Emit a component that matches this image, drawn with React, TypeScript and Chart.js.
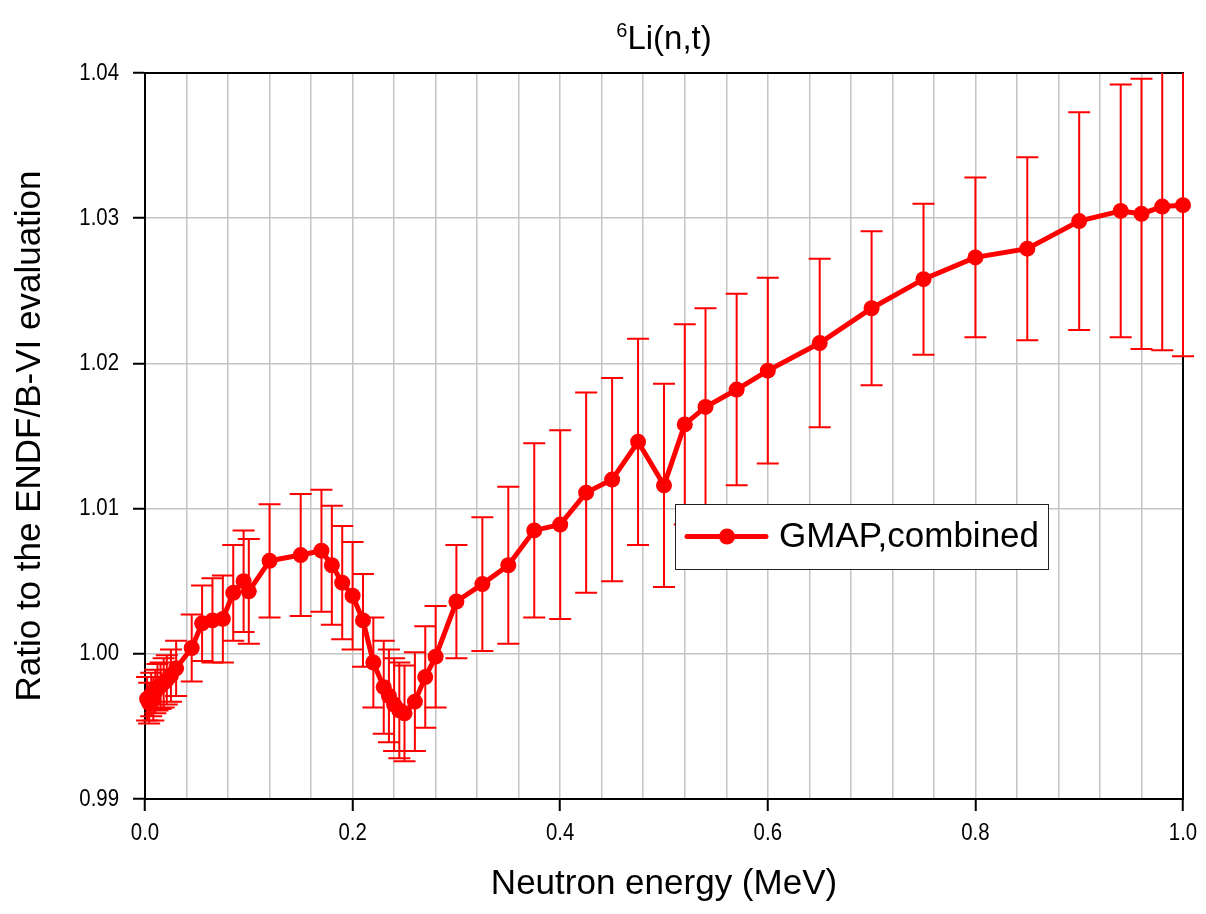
import React, { useEffect, useRef } from 'react';
import { Chart, registerables } from 'chart.js';

Chart.register(...registerables);

// ---- Data ----
const energies = [
  0.002, 0.004, 0.006, 0.008, 0.010, 0.012, 0.015, 0.018, 0.021, 0.025, 0.030,
  0.045, 0.055, 0.065, 0.075, 0.085, 0.095, 0.100, 0.120, 0.150, 0.170, 0.180,
  0.190, 0.200, 0.210, 0.220, 0.230, 0.235, 0.240, 0.245, 0.250, 0.260, 0.270,
  0.280, 0.300, 0.325, 0.350, 0.375, 0.400, 0.425, 0.450, 0.475, 0.500, 0.520,
  0.540, 0.570, 0.600, 0.650, 0.700, 0.750, 0.800, 0.850, 0.900, 0.940, 0.960,
  0.980, 1.000,
];

const ratios = [
  0.9969, 0.9966, 0.9972, 0.9969, 0.9974, 0.9977, 0.9978, 0.9980, 0.9982, 0.9985, 0.9990,
  1.0004, 1.0021, 1.0023, 1.0024, 1.0042, 1.0050, 1.0043, 1.0064, 1.0068, 1.0071, 1.0061,
  1.0049, 1.0040, 1.0023, 0.9994, 0.9977, 0.9971, 0.9965, 0.9961, 0.9959, 0.9967, 0.9984,
  0.9998, 1.0036, 1.0048, 1.0061, 1.0085, 1.0089, 1.0111, 1.0120, 1.0146, 1.0116, 1.0158,
  1.0170, 1.0182, 1.0195, 1.0214, 1.0238, 1.0258, 1.0273, 1.0279, 1.0298, 1.0305, 1.0303,
  1.0308, 1.0309,
];

const uncertainties = [
  0.0015, 0.0014, 0.0015, 0.0015, 0.0015, 0.0016, 0.0016, 0.0017, 0.0017, 0.0018, 0.0019,
  0.0023, 0.0026, 0.0029, 0.0030, 0.0033, 0.0035, 0.0036, 0.0039, 0.0042, 0.0042, 0.0041,
  0.0039, 0.0037, 0.0032, 0.0031, 0.0032, 0.0032, 0.0032, 0.0033, 0.0033, 0.0034, 0.0035,
  0.0035, 0.0039, 0.0046, 0.0054, 0.0060, 0.0065, 0.0069, 0.0070, 0.0071, 0.0070, 0.0069,
  0.0068, 0.0066, 0.0064, 0.0058, 0.0053, 0.0052, 0.0055, 0.0063, 0.0075, 0.0087, 0.0093,
  0.0099, 0.0104,
];

const seriesLabel = 'GMAP,combined';
const titleSup = '6';
const titleMain = 'Li(n,t)';
const xTitle = 'Neutron energy (MeV)';
const yTitle = 'Ratio to the ENDF/B-VI evaluation';

const FONT = "'Liberation Sans', Arial, Helvetica, sans-serif";
const RED = '#ff0000';

const isMajorX = (v: number) => Math.abs(v / 0.2 - Math.round(v / 0.2)) < 1e-6;

const framePlugin = {
  id: 'frame',
  beforeDatasetsDraw(chart: any) {
    const { ctx, chartArea } = chart;
    ctx.save();
    ctx.strokeStyle = '#000';
    ctx.lineWidth = 2;
    ctx.strokeRect(chartArea.left, chartArea.top, chartArea.right - chartArea.left, chartArea.bottom - chartArea.top);
    ctx.restore();
  },
};

const errorBarPlugin = {
  id: 'errorBars',
  beforeDatasetsDraw(chart: any) {
    const { ctx, chartArea } = chart;
    const xs = chart.scales.x;
    const ys = chart.scales.y;
    ctx.save();
    ctx.beginPath();
    ctx.rect(0, chartArea.top, chart.width, chartArea.bottom - chartArea.top);
    ctx.clip();
    ctx.strokeStyle = RED;
    ctx.lineWidth = 2;
    const cap = 11;
    energies.forEach((e, i) => {
      const px = xs.getPixelForValue(e);
      const top = ys.getPixelForValue(ratios[i] + uncertainties[i]);
      const bot = ys.getPixelForValue(ratios[i] - uncertainties[i]);
      ctx.beginPath();
      ctx.moveTo(px, top);
      ctx.lineTo(px, bot);
      ctx.moveTo(px - cap, top);
      ctx.lineTo(px + cap, top);
      ctx.moveTo(px - cap, bot);
      ctx.lineTo(px + cap, bot);
      ctx.stroke();
    });
    ctx.restore();
  },
};

// Tick labels drawn from the scales' own ticks
const tickLabelPlugin = {
  id: 'tickLabels',
  afterDraw(chart: any) {
    const { ctx, chartArea } = chart;
    const xs = chart.scales.x;
    const ys = chart.scales.y;
    ctx.save();
    ctx.fillStyle = '#000';
    ctx.font = `24px ${FONT}`;
    ctx.textBaseline = 'middle';
    ys.ticks.forEach((t: any) => {
      const py = ys.getPixelForValue(t.value);
      ctx.save();
      ctx.translate(chartArea.left - 26, py);
      ctx.scale(0.85, 1);
      ctx.textAlign = 'right';
      ctx.fillText(Number(t.value).toFixed(2), 0, 0);
      ctx.restore();
    });
    xs.ticks.forEach((t: any) => {
      if (!isMajorX(t.value)) return;
      const px = xs.getPixelForValue(t.value);
      ctx.save();
      ctx.translate(px, chartArea.bottom + 34);
      ctx.scale(0.85, 1);
      ctx.textAlign = 'center';
      ctx.fillText(Number(t.value).toFixed(1), 0, 0);
      ctx.restore();
    });
    ctx.restore();
  },
};

const titleLegendPlugin = {
  id: 'titleLegend',
  afterDraw(chart: any) {
    const { ctx, chartArea } = chart;
    ctx.save();
    // Title with superscript
    const supFont = `20px ${FONT}`;
    const mainFont = `33px ${FONT}`;
    ctx.font = supFont;
    const w1 = ctx.measureText(titleSup).width;
    ctx.font = mainFont;
    const w2 = ctx.measureText(titleMain).width;
    const cx = (chartArea.left + chartArea.right) / 2;
    const sx = cx - (w1 + w2) / 2;
    ctx.fillStyle = '#000';
    ctx.textBaseline = 'alphabetic';
    ctx.textAlign = 'left';
    ctx.font = supFont;
    ctx.fillText(titleSup, sx, 37);
    ctx.font = mainFont;
    ctx.fillText(titleMain, sx + w1, 49);

    // Legend box
    const ds = chart.data.datasets[0];
    const bx = 675.5, by = 504.5, bw = 373, bh = 65;
    ctx.fillStyle = '#fff';
    ctx.fillRect(bx, by, bw, bh);
    ctx.strokeStyle = '#222';
    ctx.lineWidth = 1;
    ctx.strokeRect(bx, by, bw, bh);
    const ly = 536.5;
    ctx.strokeStyle = ds.borderColor;
    ctx.lineWidth = 5;
    ctx.lineCap = 'round';
    ctx.beginPath();
    ctx.moveTo(687, ly);
    ctx.lineTo(766, ly);
    ctx.stroke();
    ctx.fillStyle = ds.backgroundColor;
    ctx.beginPath();
    ctx.arc(727, ly, 8, 0, Math.PI * 2);
    ctx.fill();
    ctx.fillStyle = '#000';
    ctx.font = `35px ${FONT}`;
    ctx.textBaseline = 'middle';
    ctx.fillText(ds.label, 779, ly + 1);
    ctx.restore();
  },
};

export default function App() {
  const canvasRef = useRef<HTMLCanvasElement | null>(null);

  useEffect(() => {
    document.body.style.margin = '0';
    const canvas = canvasRef.current;
    if (!canvas) return;
    const points = energies.map((e, i) => ({ x: e, y: ratios[i] }));

    const chart = new Chart(canvas, {
      type: 'line',
      data: {
        datasets: [
          {
            label: seriesLabel,
            data: points,
            borderColor: RED,
            backgroundColor: RED,
            borderWidth: 5,
            pointRadius: 8,
            pointHoverRadius: 8,
            pointBorderWidth: 0,
            pointBackgroundColor: RED,
            tension: 0,
            clip: false as any,
          },
        ],
      },
      plugins: [framePlugin, errorBarPlugin, tickLabelPlugin, titleLegendPlugin],
      options: {
        animation: false,
        responsive: false,
        maintainAspectRatio: false,
        devicePixelRatio: 1,
        layout: { padding: { top: 73, right: 23, left: 0, bottom: 0 } },
        plugins: {
          legend: { display: false },
          title: { display: false },
          tooltip: { enabled: false },
        },
        scales: {
          x: {
            type: 'linear',
            min: 0,
            max: 1,
            afterFit: (s: any) => { s.height = 115; },
            border: { display: true, color: '#000', width: 2 },
            grid: {
              color: '#c4c4c4',
              lineWidth: 1.5,
              tickLength: 12,
              tickWidth: 2,
              tickColor: (c: any) => (c.tick && isMajorX(c.tick.value) ? '#000' : 'rgba(0,0,0,0)'),
            },
            ticks: {
              display: false,
              stepSize: 0.04,
              autoSkip: false,
              maxRotation: 0,
            },
            title: {
              display: true,
              text: xTitle,
              color: '#000',
              font: { family: FONT, size: 35 },
              padding: { top: 0, bottom: 9 },
            },
          },
          y: {
            type: 'linear',
            min: 0.99,
            max: 1.04,
            afterFit: (s: any) => { s.width = 145; },
            border: { display: true, color: '#000', width: 2 },
            grid: {
              color: '#c4c4c4',
              lineWidth: 1.5,
              tickLength: 12,
              tickWidth: 2,
              tickColor: '#000',
            },
            ticks: {
              display: false,
              stepSize: 0.01,
            },
            title: {
              display: true,
              text: yTitle,
              color: '#000',
              font: { family: FONT, size: 35 },
              padding: { top: 9, bottom: 0 },
            },
          },
        },
      },
    } as any);

    return () => chart.destroy();
  }, []);

  return (
    <div style={{ width: 1206, height: 914, position: 'relative' }}>
      <canvas ref={canvasRef} width={1206} height={914} style={{ width: 1206, height: 914, display: 'block' }} />
    </div>
  );
}
